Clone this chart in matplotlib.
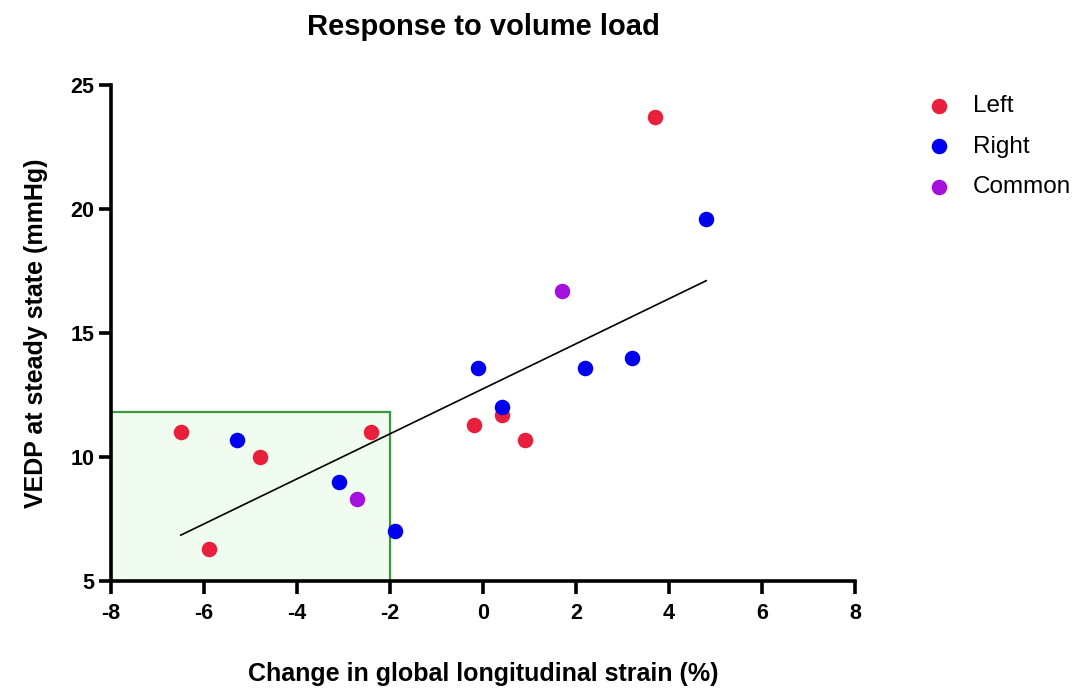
import matplotlib.pyplot as plt
from matplotlib.patches import Rectangle
import numpy as np

plt.rcParams['font.family'] = ['Liberation Sans', 'DejaVu Sans']
plt.rcParams['axes.unicode_minus'] = False

# data
left_x = [-6.5, -5.9, -4.8, -2.4, -0.2, 0.4, 0.9, 3.7]
left_y = [11.0, 6.3, 10.0, 11.0, 11.3, 11.7, 10.7, 23.7]
right_x = [-5.3, -3.1, -1.9, -0.1, 0.4, 2.2, 3.2, 4.8]
right_y = [10.7, 9.0, 7.0, 13.6, 12.0, 13.6, 14.0, 19.6]
common_x = [-2.7, 1.7]
common_y = [8.3, 16.7]

# fitted line as drawn in the reference
fit_slope = 0.908
fit_intercept = 12.75

# shaded box (x from, x to, y from, y to)
box = [-8, -2, 5, 11.8]

x_ticks = [-8, -6, -4, -2, 0, 2, 4, 6, 8]
y_ticks = [5, 10, 15, 20, 25]

fig = plt.figure(figsize=(10.77, 6.88), dpi=100)
ax = fig.add_axes([111/1077, 1 - 581/688, (855-111)/1077, (581-85)/688])

ax.add_patch(Rectangle((box[0], box[2]), box[1]-box[0], box[3]-box[2],
                       facecolor="#f1fcf0", edgecolor="#3c9a3c", linewidth=1.6, zorder=1))

all_x = np.array(left_x + right_x + common_x)
xs = np.array([all_x.min(), all_x.max()])
ax.plot(xs, fit_slope*xs + fit_intercept, color="black", linewidth=1.2, zorder=2)

ax.scatter(left_x, left_y, s=125, color="#e8203c", label="Left", zorder=3, linewidths=0)
ax.scatter(right_x, right_y, s=125, color="#0000ee", label="Right", zorder=3, linewidths=0)
ax.scatter(common_x, common_y, s=125, color="#a511dc", label="Common", zorder=3, linewidths=0)

ax.set_xlim(-8, 8)
ax.set_ylim(5, 25)
ax.set_xticks(x_ticks)
ax.set_yticks(y_ticks)
for s in ["top", "right"]:
    ax.spines[s].set_visible(False)
for s in ["left", "bottom"]:
    ax.spines[s].set_linewidth(2.6)
ax.tick_params(width=2.6, length=9, labelsize=15.5)
ax.tick_params(axis="x", pad=7)
ax.tick_params(axis="y", pad=3)
for lab in ax.get_xticklabels() + ax.get_yticklabels():
    lab.set_fontweight("bold")

ax.set_title("Response to volume load", fontsize=21, fontweight="bold", pad=36)
ax.set_xlabel("Change in global longitudinal strain (%)", fontsize=18, fontweight="bold", labelpad=27)
ax.set_ylabel("VEDP at steady state (mmHg)", fontsize=18, fontweight="bold", labelpad=16)

ax.legend(loc="upper left", bbox_to_anchor=(927/1077, 1 - 95/688), bbox_transform=fig.transFigure,
          frameon=False, fontsize=17.5, labelspacing=0.76, handlelength=1.0,
          handletextpad=0.9, borderaxespad=0, borderpad=0)

fig.savefig("out.png", dpi=100)
